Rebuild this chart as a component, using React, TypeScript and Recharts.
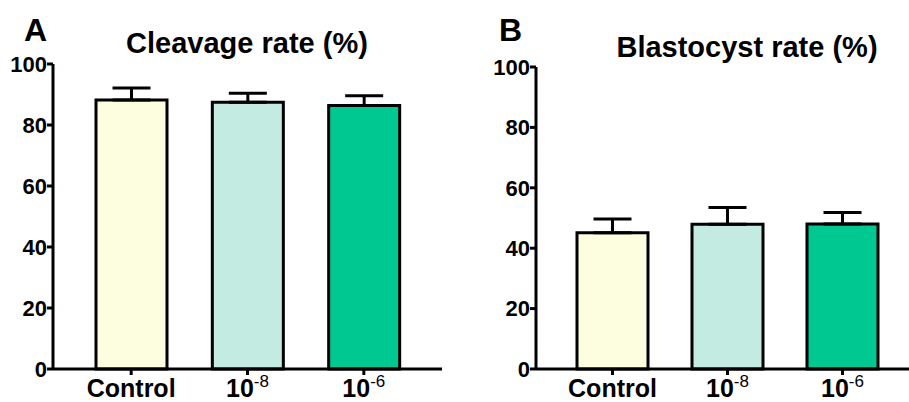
import React from 'react';
import { BarChart, Bar, XAxis, YAxis, ErrorBar, Cell } from 'recharts';

const groups = ['Control', '10-8', '10-6'];
const labelBase = ['Control', '10', '10'];
const labelExp = ['', '-8', '-6'];
const barColors = ['#FDFDE0', '#C3EBE1', '#00C891'];
const yTicks = [0, 20, 40, 60, 80, 100];

const cleavageMean = [88.2, 87.5, 86.4];
const cleavageErr = [3.9, 2.9, 3.2];
const blastMean = [45.1, 47.9, 48.0];
const blastErr = [4.6, 5.6, 3.8];

const FONT = '"Liberation Sans", Arial, sans-serif';

const buildRows = (mean: number[], err: number[]) =>
    groups.map((g, i) => ({ group: g, value: mean[i], err: [0, err[i]] }));

const XTick = (props: any) => {
    const { x, y, index } = props;
    const exp = labelExp[index];
    return (
        <text x={x} y={y + 20} textAnchor="middle" fontFamily={FONT} fontWeight="bold" fontSize={25} fill="#000">
            <tspan>{labelBase[index]}</tspan>
            {exp && <tspan dy={-10} fontSize={17} fontWeight="normal">{exp}</tspan>}
        </text>
    );
};

interface PanelProps {
    mean: number[];
    err: number[];
    width: number;
    top: number;
    right: number;
    yAxisWidth: number;
    padding: { left: number; right: number };
}

function Panel({ mean, err, width, top, right, yAxisWidth, padding }: PanelProps) {
    const data = buildRows(mean, err);
    return (
        <BarChart width={width} height={402} data={data} margin={{ top, right, bottom: 0, left: 0 }}>
            <XAxis
                dataKey="group"
                height={33}
                padding={padding}
                axisLine={{ stroke: '#000', strokeWidth: 3 }}
                tickLine={{ stroke: '#000', strokeWidth: 3 }}
                tickSize={6}
                tick={<XTick />}
                interval={0}
            />
            <YAxis
                width={yAxisWidth}
                domain={[0, 100]}
                ticks={yTicks}
                axisLine={{ stroke: '#000', strokeWidth: 3 }}
                tickLine={{ stroke: '#000', strokeWidth: 3 }}
                tickSize={6}
                tickMargin={0}
                tick={{ fill: '#000', fontSize: 22, fontWeight: 'bold', fontFamily: FONT }}
            />
            <Bar dataKey="value" barSize={71} stroke="#000" strokeWidth={3} isAnimationActive={false}>
                {data.map((_, i) => (
                    <Cell key={i} fill={barColors[i]} />
                ))}
                <ErrorBar dataKey="err" direction="y" width={19} stroke="#000" strokeWidth={3} />
            </Bar>
        </BarChart>
    );
}

export default function App() {
    return (
        <div style={{ position: 'absolute', left: 0, top: 0, width: 909, height: 402, background: '#fff' }}>
            <div style={{ position: 'absolute', left: 0, top: 0 }}>
                <Panel mean={cleavageMean} err={cleavageErr} width={450} top={64} right={8} yAxisWidth={53} padding={{ left: 20, right: 20 }} />
            </div>
            <div style={{ position: 'absolute', left: 460, top: 0 }}>
                <Panel mean={blastMean} err={blastErr} width={449} top={67} right={0} yAxisWidth={76} padding={{ left: 19, right: 9 }} />
            </div>
            <svg width={909} height={402} style={{ position: 'absolute', left: 0, top: 0, pointerEvents: 'none' }}>
                <g fontFamily={FONT} fontWeight="bold" fill="#000">
                    <text x={24} y={41} fontSize={32}>A</text>
                    <text x={247} y={53} fontSize={29} textAnchor="middle">Cleavage rate (%)</text>
                    <text x={499} y={41} fontSize={32}>B</text>
                    <text x={747} y={57} fontSize={29} textAnchor="middle">Blastocyst rate (%)</text>
                </g>
            </svg>
        </div>
    );
}
